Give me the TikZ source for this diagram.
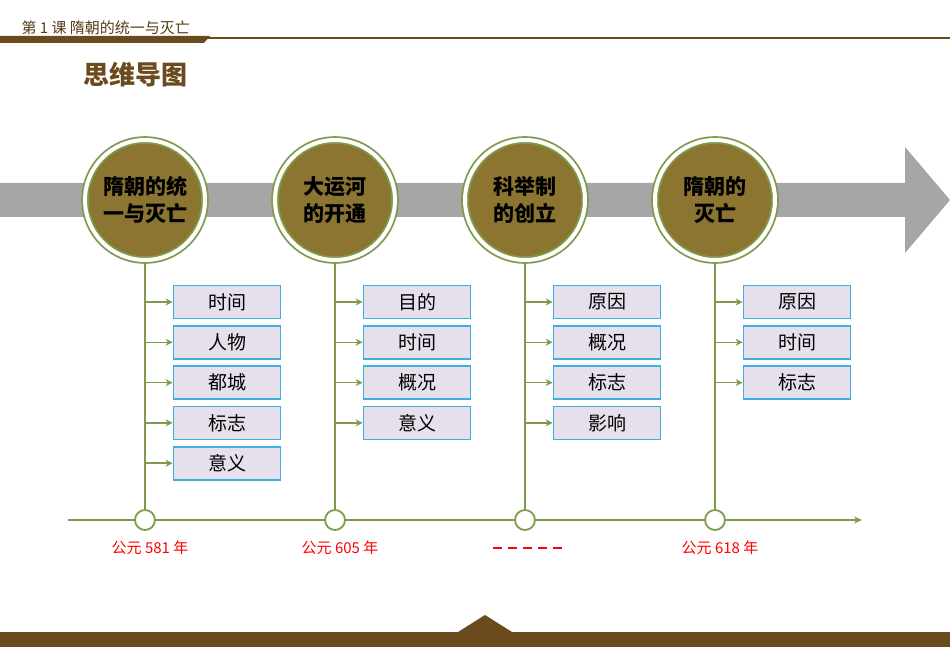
\documentclass[tikz,border=0pt]{standalone}
\usepackage{fontspec}
\setmainfont{Noto Sans CJK SC}
\usetikzlibrary{positioning,arrows.meta}
\definecolor{brn}{HTML}{6B4A1E}
\definecolor{olv}{HTML}{8B7530}
\definecolor{grn}{HTML}{7F9A4A}
\definecolor{boxfill}{HTML}{E6E0EC}
\definecolor{boxline}{HTML}{3DB0E0}
\definecolor{band}{HTML}{A6A6A6}
\begin{document}
\begin{tikzpicture}
        [%%%%%%%%%%%%%%%%%%%%%%%%%%%%%%
            x=1pt,y=-1pt,
            topic/.style={circle,draw=grn,line width=1.8pt,fill=olv,double=white,double distance=4pt,minimum size=120pt,inner sep=0pt,font=\bfseries\fontsize{21}{27}\selectfont,align=center},
            item/.style={draw=boxline,line width=1.8pt,fill=boxfill,minimum width=107pt,minimum height=33pt,font=\fontsize{19}{21}\selectfont},
            dot/.style={circle,draw=grn,line width=1.8pt,fill=white,minimum size=20pt,inner sep=0pt},
            year/.style={text=red,font=\fontsize{15}{17}\selectfont},
            branch/.style={grn,line width=1.5pt,-{Stealth[length=7pt,width=7pt]}},
        ]%%%%%%%%%%%%%%%%%%%%%%%%%%%%%%
        \useasboundingbox (0,0) rectangle (950,647);

        % header
        \node[anchor=west,text=brn!80!black,font=\fontsize{15}{17}\selectfont] (head) at (18,28) {第 1 课 隋朝的统一与灭亡};
        \fill[brn] (0,36) -- (210,36) -- (204,43) -- (0,43) -- cycle;
        \draw[brn,line width=1.2pt] (200,38) -- (950,38);
        \node[text=brn,font=\bfseries\fontsize{26}{30}\selectfont] (title) at (135,75) {思维导图};

        % band
        \fill[band] (0,183) -- (905,183) -- (905,147) -- (950,200) -- (905,253) -- (905,217) -- (0,217) -- cycle;

        % timeline
        \coordinate (tl0) at (68,520);
        \coordinate (tl1) at (862,520);
        \draw[grn,line width=1.5pt,-{Stealth[length=8pt,width=7pt]}] (tl0) -- (tl1);

        \foreach \n/\x/\t in {a/145/{隋朝的统\\一与灭亡},b/335/{大运河\\的开通},c/525/{科举制\\的创立},d/715/{隋朝的\\灭亡}}{
            \node[dot] (\n t) at (\x,520) {};
            \draw[grn,line width=1.8pt] (\x,200) -- (\n t);
            \node[topic] (\n) at (\x,200) {\t};
        }

        \foreach \n/\list in {a/{时间,人物,都城,标志,意义},b/{目的,时间,概况,意义},c/{原因,概况,标志,影响},d/{原因,时间,标志}}{
            \foreach \s [count=\i] in \list{
                \path (\n t) ++(82,-218+40.3*\i-40.3) node[item] (\n\i) {\s};
                \draw[branch] (\n t |- \n\i) -- (\n\i.west);
            }
        }

        \node[year] (ya) at (150,548) {公元 581 年};
        \node[year] (yb) at (340,548) {公元 605 年};
        \coordinate (yc0) at (493,548);
        \coordinate (yc1) at (563,548);
        \draw[red,line width=2.5pt,dash pattern=on 9pt off 6pt] (yc0) -- (yc1);
        \node[year] (yd) at (720,548) {公元 618 年};

        % footer
        \fill[brn] (0,632) -- (458,632) -- (485,615) -- (512,632) -- (950,632) -- (950,647) -- (0,647) -- cycle;
    \end{tikzpicture}
\end{document}
